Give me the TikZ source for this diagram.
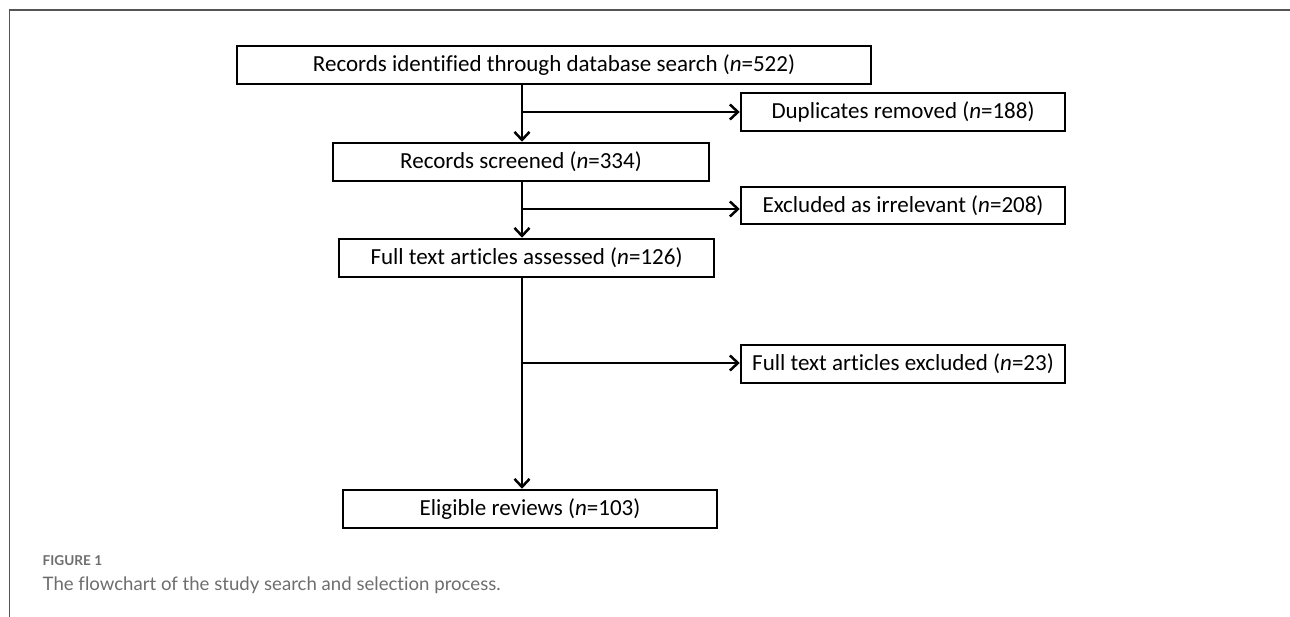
\documentclass[tikz,border=0pt]{standalone}
\usepackage{fontspec}
\setmainfont{Carlito}[Ligatures=NoCommon]
\newfontfamily\capfont{Lato}[Ligatures=NoCommon]
\usetikzlibrary{arrows.meta}
\definecolor{framegray}{HTML}{555555}
\definecolor{capgray}{HTML}{6E6E6E}
\tikzset{
  box/.style={draw=black, line width=2.5pt, inner sep=0pt, minimum height=38pt, font=\fontsize{23}{27}\selectfont},
  flow/.style={line width=2.5pt, -{Straight Barb[length=8pt,width=15pt,line width=2.5pt]}},
}
\begin{document}
\begin{tikzpicture}[x=1pt,y=-1pt]
\useasboundingbox (0,0) rectangle (1290,617);
\fill[white] (0,0) rectangle (1290,617);
\draw[framegray, line width=1.8pt] (9.5,617) -- (9.5,10) -- (1290,10);

\node[box, minimum width=634pt] (n1) at (554,65) {Records identified through database search (\textit{n}=522)};
\node[box, minimum width=324pt] (dup) at (903,112) {Duplicates removed (\textit{n}=188)};
\node[box, minimum width=376pt] (n2) at (521,162) {Records screened (\textit{n}=334)};
\node[box, minimum width=324pt, minimum height=37pt] (exc) at (903,205.5) {Excluded as irrelevant (\textit{n}=208)};
\node[box, minimum width=375pt] (n3) at (526.5,258) {Full text articles assessed (\textit{n}=126)};
\node[box, minimum width=324pt] (fte) at (903,364) {Full text articles excluded (\textit{n}=23)};
\node[box, minimum width=374pt] (n4) at (530,509) {Eligible reviews (\textit{n}=103)};

\coordinate (s1) at (522,84);
\coordinate (b1) at (522,112);
\coordinate (b2) at (522,209);
\coordinate (b3) at (522,363);

\draw[flow] (s1) -- (s1 |- n2.north);
\draw[flow] (b1) -- (b1 -| dup.west);
\draw[flow] (b1 |- n2.south) -- (b1 |- n3.north);
\draw[flow] (b2) -- (b2 -| exc.west);
\draw[flow] (b1 |- n3.south) -- (b1 |- n4.north);
\draw[flow] (b3) -- (b3 -| fte.west);

\node[anchor=base west, inner sep=0pt, text=capgray, font=\capfont\bfseries\fontsize{13.6}{16}\selectfont] (fig) at (42.5,565.5) {FIGURE 1};
\node[anchor=base west, inner sep=0pt, text=capgray, font=\capfont\fontsize{18.6}{22}\selectfont] (cap) at (42.5,590) {The flowchart of the study search and selection process.};
\end{tikzpicture}
\end{document}
